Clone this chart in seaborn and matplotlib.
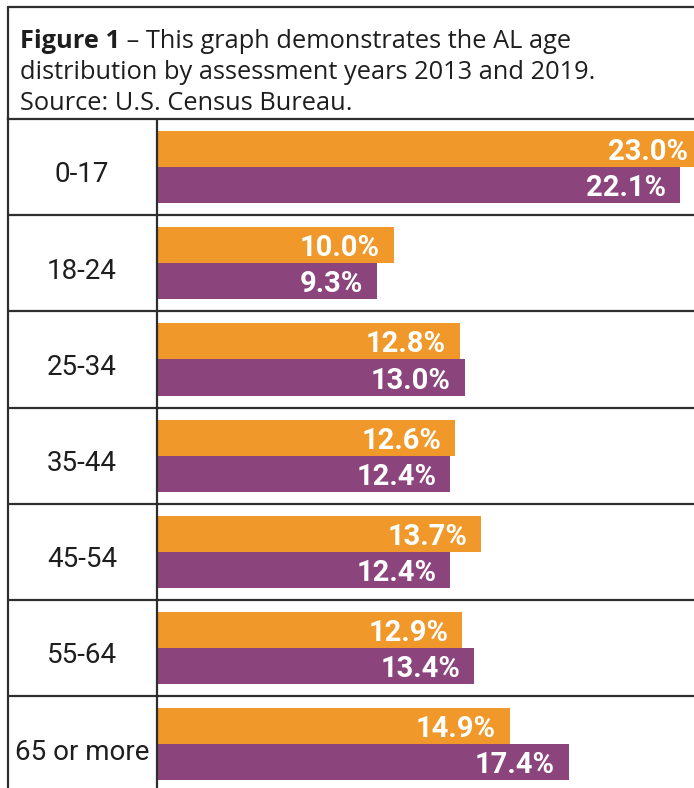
import matplotlib
matplotlib.use("Agg")
import matplotlib.pyplot as plt
from matplotlib.lines import Line2D
import seaborn as sns
import pandas as pd

# ---- data ----
age_groups = ["0-17", "18-24", "25-34", "35-44", "45-54", "55-64", "65 or more"]
years = ["2013", "2019"]
values_2013 = [23.0, 10.0, 12.8, 12.6, 13.7, 12.9, 14.9]
values_2019 = [22.1, 9.3, 13.0, 12.4, 12.4, 13.4, 17.4]
title_bold = "Figure 1"
title_rest = (" \u2013 This graph demonstrates the AL age\n"
              "distribution by assessment years 2013 and 2019.\n"
              "Source: U.S. Census Bureau.")

df = pd.DataFrame({
    "age": age_groups * 2,
    "year": [years[0]] * len(age_groups) + [years[1]] * len(age_groups),
    "value": values_2013 + values_2019,
})

ORANGE = "#F09829"
PURPLE = "#8B447C"
LINE = "#2e2e2e"
TEXT = "#1e1e1e"

sns.set_theme(style="white")
plt.rcParams["font.family"] = ["Roboto", "DejaVu Sans"]

W, H = 694, 788
fig = plt.figure(figsize=(W / 100, H / 100), dpi=100)

left_px, col_px, top_px = 7.5, 156.5, 119.0
scale = 23.7  # px per percentage point
x_left = -(col_px - left_px) / scale
x_right = (W - col_px) / scale
row_px = 96.2
n_rows_visible = (H - top_px) / row_px

ax = fig.add_axes([left_px / W, 0, 1 - left_px / W, (H - top_px) / H])
sns.barplot(data=df, y="age", x="value", hue="year", orient="h",
            palette=[ORANGE, PURPLE], width=0.75, saturation=1,
            linewidth=0, legend=False, ax=ax)
ax.set_xlim(x_left, x_right)
ax.set_ylim(-0.5 + n_rows_visible, -0.5)
ax.set_xlabel("")
ax.set_ylabel("")
ax.set_xticks([])
ax.set_yticks([])
for s in ["right", "bottom"]:
    ax.spines[s].set_visible(False)
for s in ["left", "top"]:
    ax.spines[s].set_color(LINE)
    ax.spines[s].set_linewidth(1.6)

# grid lines
for i in range(len(age_groups) - 1):
    ax.axhline(i + 0.5, color=LINE, lw=1.6, zorder=3)
ax.axvline(0, color=LINE, lw=1.6, zorder=3)

# category labels
for i, g in enumerate(age_groups):
    ax.text(x_left / 2, i + 0.05, g, ha="center", va="center_baseline",
            fontsize=20, color=TEXT)

# value labels
for cont, vals in zip(ax.containers, [values_2013, values_2019]):
    for bar, v in zip(cont, vals):
        y = bar.get_y() + bar.get_height() / 2
        ax.annotate(f"{v:.1f}%", xy=(v, y), xytext=(-10, 0),
                    textcoords="offset points", ha="right",
                    va="center_baseline",
                    color="white", fontsize=21, fontweight="bold",
                    annotation_clip=False)

# title box lines
fig.add_artist(Line2D([left_px / W, 1.0], [1 - 6.5 / H, 1 - 6.5 / H],
                      color=LINE, lw=1.6))
fig.add_artist(Line2D([left_px / W, left_px / W], [1 - 6.5 / H, 1 - top_px / H],
                      color=LINE, lw=1.6))

# title text
tfam = ["Open Sans", "DejaVu Sans"]
tsize = 18.3
t = fig.text(20 / W, 1 - 48 / H, title_bold, fontsize=tsize, fontweight="bold",
             color=TEXT, ha="left", va="baseline", family=tfam)
fig.canvas.draw()
bb = t.get_window_extent()
lines = title_rest.split("\n")
fig.text(bb.x1 / W, 1 - 48 / H, lines[0], fontsize=tsize, color=TEXT,
         ha="left", va="baseline", family=tfam)
fig.text(20 / W, 1 - 79 / H, lines[1], fontsize=tsize, color=TEXT,
         ha="left", va="baseline", family=tfam)
fig.text(20 / W, 1 - 110 / H, lines[2], fontsize=tsize, color=TEXT,
         ha="left", va="baseline", family=tfam)

fig.savefig("out.png", dpi=100)
